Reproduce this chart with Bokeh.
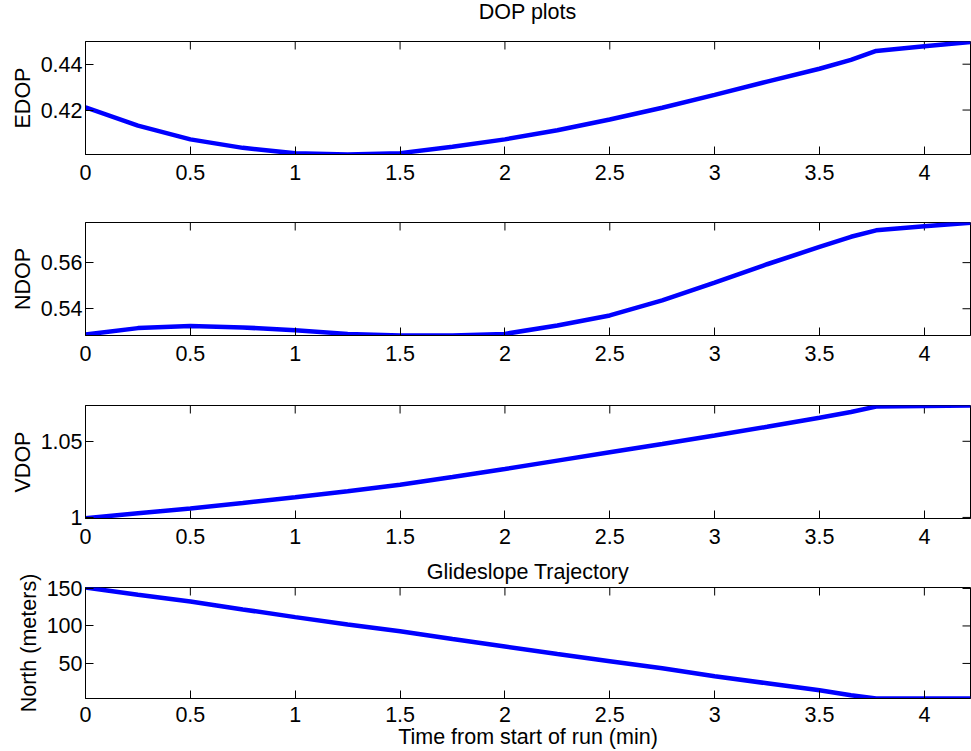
import math
from bokeh.plotting import figure
from bokeh.layouts import column
from bokeh.models import LinearAxis, Range1d, FixedTicker, PrintfTickFormatter, Div
from bokeh.embed import file_html
from bokeh.resources import INLINE

# ---- data ----
time_min = [0.0, 0.25, 0.5, 0.75, 1.0, 1.25, 1.5, 1.75, 2.0, 2.25, 2.5, 2.75,
            3.0, 3.25, 3.5, 3.65, 3.77, 4.0, 4.22]
edop = [0.4212, 0.4132, 0.4072, 0.4035, 0.4011, 0.4006, 0.4012, 0.4040, 0.4072,
        0.4112, 0.4159, 0.4210, 0.4266, 0.4324, 0.4380, 0.4419, 0.4458, 0.4478, 0.4497]
ndop = [0.5288, 0.5316, 0.5325, 0.5319, 0.5307, 0.5291, 0.5284, 0.5284, 0.5291,
        0.5327, 0.5371, 0.5436, 0.5513, 0.5593, 0.5668, 0.5712, 0.5740, 0.5758, 0.5773]
vdop = [0.9995, 1.0027, 1.0059, 1.0095, 1.0132, 1.0172, 1.0215, 1.0265, 1.0318,
        1.0373, 1.0428, 1.0482, 1.0538, 1.0595, 1.0655, 1.0692, 1.0728, 1.0732, 1.0735]
north_m = [151.3, 141.5, 132.5, 122.0, 111.8, 102.0, 93.0, 82.5, 72.5, 62.5, 53.0,
           43.5, 33.0, 23.5, 14.1, 7.5, 3.2, 3.2, 3.2]

x_ticks = [0, 0.5, 1, 1.5, 2, 2.5, 3, 3.5, 4]
edop_ticks = [0.42, 0.44]
ndop_ticks = [0.54, 0.56]
vdop_ticks = [1, 1.05]
north_ticks = [50, 100, 150]

time_range = (0, 4.22)
edop_range = (0.4006, 0.4499)
ndop_range = (0.5284, 0.5774)
vdop_range = (0.9993, 1.0735)
north_range = (3.2, 151.3)

FONT = "Liberation Sans"
FS = "21.5px"
BLUE = "#0000ff"


def style_axis(ax, ticks, standoff):
    ax.ticker = FixedTicker(ticks=ticks)
    ax.formatter = PrintfTickFormatter(format="%g")
    ax.major_tick_in = 8
    ax.major_tick_out = 0
    ax.minor_tick_line_color = None
    ax.major_tick_line_color = "black"
    ax.axis_line_color = "black"
    ax.major_label_text_font = FONT
    ax.major_label_text_color = "black"
    ax.major_label_text_font_size = FS
    ax.major_label_standoff = standoff


def make_panel(values, ylabel, yticks, yrange, height, top, bottom,
               title=None, title_standoff=4, xlabel=None, xstandoff=10):
    p = figure(width=971, height=height, output_backend="svg", toolbar_location=None,
               x_range=Range1d(*time_range), y_range=Range1d(*yrange),
               x_axis_type=None, y_axis_type=None,
               min_border_left=85, min_border_right=1,
               min_border_top=top, min_border_bottom=bottom)
    p.background_fill_color = "white"
    p.border_fill_color = "white"
    p.outline_line_color = "black"
    p.outline_line_width = 1

    bx = LinearAxis()
    style_axis(bx, x_ticks, xstandoff)
    if xlabel:
        bx.axis_label = xlabel
        bx.axis_label_text_font = FONT
        bx.axis_label_text_font_size = FS
        bx.axis_label_text_font_style = "normal"
        bx.axis_label_text_color = "black"
        bx.axis_label_standoff = 0
    p.add_layout(bx, "below")

    lx = LinearAxis()
    style_axis(lx, yticks, 3)
    lx.axis_label = ylabel
    lx.axis_label_text_font = FONT
    lx.axis_label_text_font_size = FS
    lx.axis_label_text_font_style = "normal"
    lx.axis_label_text_color = "black"
    lx.axis_label_standoff = 3
    p.add_layout(lx, "left")

    # inward tick marks on the top and right edges of the box (MATLAB style)
    p.scatter(x_ticks, [yrange[1]] * len(x_ticks), marker="dash", size=16,
              angle=math.pi / 2, line_color="black", line_width=1)
    p.scatter([time_range[1]] * len(yticks), yticks, marker="dash", size=16,
              line_color="black", line_width=1)

    if title:
        p.title.text = title
        p.title.align = "center"
        p.title.text_font = FONT
        p.title.text_font_size = FS
        p.title.text_font_style = "normal"
        p.title.text_color = "black"
        p.title.standoff = title_standoff

    p.line(time_min, values, line_width=4.5, color=BLUE)
    return p


title_div = Div(text="DOP plots", width=885, height=24, margin=(0, 0, 0, 85),
                styles={"font-family": FONT, "font-size": FS, "line-height": "24px",
                        "text-align": "center", "color": "black"})

p1 = make_panel(edop, "EDOP", edop_ticks, edop_range, 166, 17, 36)
p2 = make_panel(ndop, "NDOP", ndop_ticks, ndop_range, 182, 32, 37)
p3 = make_panel(vdop, "VDOP", vdop_ticks, vdop_range, 181, 33, 35)
p4 = make_panel(north_m, "North (meters)", north_ticks, north_range, 198, 34, 52,
                title="Glideslope Trajectory", title_standoff=7,
                xlabel="Time from start of run (min)", xstandoff=8)

layout = column(title_div, p1, p2, p3, p4, spacing=0)
open("out.html", "w").write(file_html(layout, INLINE))
